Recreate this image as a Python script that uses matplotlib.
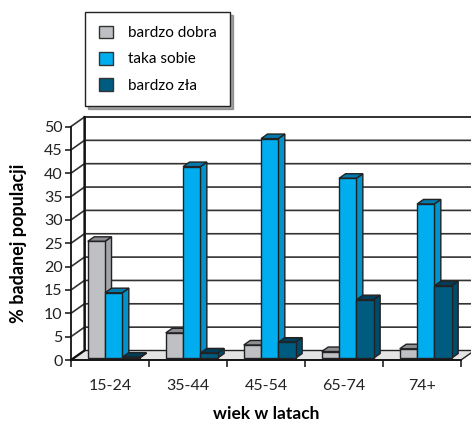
import matplotlib.pyplot as plt
from matplotlib.patches import Polygon, Patch

plt.rcParams['font.family'] = ['Lato', 'DejaVu Sans']

# dane
kategorie = ['15-24', '35-44', '45-54', '65-74', '74+']
serie = ['bardzo dobra', 'taka sobie', 'bardzo zła']
bardzo_dobra = [25, 5.4, 2.8, 1.4, 2.0]
taka_sobie = [14, 41, 47, 38.5, 33]
bardzo_zla = [0.2, 1.1, 3.4, 12.5, 15.5]
y_ticks = list(range(0, 55, 5))

wartosci = [bardzo_dobra, taka_sobie, bardzo_zla]
# kolory: przód, bok, góra
kolory = [
    ('#bfc0c4', '#a4a5a9', '#8d8e92'),
    ('#00aeef', '#0093cc', '#0079ad'),
    ('#005b80', '#004b6b', '#003d58'),
]

W, H = 471, 424
fig = plt.figure(figsize=(W / 100, H / 100), dpi=100)
ax = fig.add_axes([71 / W, 64 / H, 390 / W, 233.5 / H])
ax.set_xlim(0, len(kategorie))
ax.set_ylim(0, 50)

# głębokość perspektywy w jednostkach danych
DX = 13.5 / 78
DY = 9.5 / (233.5 / 50)
n = len(kategorie)


def p(x, y, d):
    return (x + d * DX, y + d * DY)


# ściana tylna, podłoga, krawędź ściany bocznej
ax.add_patch(Polygon([p(0, 0, 1), p(n, 0, 1), p(n, 50, 1), p(0, 50, 1)],
                     closed=True, fc='white', ec='#222', lw=1.2, clip_on=False, zorder=1))
ax.add_patch(Polygon([p(0, 0, 0), p(n, 0, 0), p(n, 0, 1), p(0, 0, 1)],
                     closed=True, fc='#e4e4e4', ec='#222', lw=1.0, clip_on=False, zorder=2))
ax.plot(*zip(p(0, 0, 0), p(0, 0, 1), p(0, 50, 1)), color='#111', lw=1.6,
        clip_on=False, zorder=2)

# linie siatki
for t in y_ticks[1:]:
    xs, ys = zip(p(0, t, 0), p(0, t, 1), p(n, t, 1))
    ax.plot(xs, ys, color='#333', lw=1.2, clip_on=False, zorder=1.5)

# słupki 3D
d0, d1 = 0.2, 0.68
off, w = 0.18, 0.222
for i in range(n):
    for j, vals in enumerate(wartosci):
        v = vals[i]
        fc, sc, tc = kolory[j]
        x0 = i + off + j * w
        x1 = x0 + w
        kw = dict(ec='#222', lw=1.0, clip_on=False, zorder=3 + i * 3 + j)
        ax.add_patch(Polygon([p(x1, 0, d0), p(x1, 0, d1), p(x1, v, d1), p(x1, v, d0)],
                             closed=True, fc=sc, **kw))
        ax.add_patch(Polygon([p(x0, v, d0), p(x1, v, d0), p(x1, v, d1), p(x0, v, d1)],
                             closed=True, fc=tc, **kw))
        ax.add_patch(Polygon([p(x0, 0, d0), p(x1, 0, d0), p(x1, v, d0), p(x0, v, d0)],
                             closed=True, fc=fc, **kw))

# osie
for s in ['top', 'right']:
    ax.spines[s].set_visible(False)
for s in ['left', 'bottom']:
    ax.spines[s].set_color('#111')
    ax.spines[s].set_linewidth(1.3)
    ax.spines[s].set_zorder(40)
ax.set_yticks(y_ticks)
ax.set_xticks([i + 0.5 for i in range(n)])
ax.set_xticklabels(kategorie)
ax.set_xticks(range(n + 1), minor=True)
ax.tick_params(axis='y', length=4, width=1.2, labelsize=11.5, pad=2, colors='#222')
ax.tick_params(axis='x', which='major', length=0, labelsize=11.5, pad=14, colors='#222')
ax.tick_params(axis='x', which='minor', length=5, width=1.2, color='#222')
ax.patch.set_visible(False)

ax.set_xlabel('wiek w latach', fontsize=12.5, fontweight='bold', labelpad=9)
ax.set_ylabel('% badanej populacji', fontsize=13, fontweight='bold', labelpad=12)

# legenda
uchwyty = [Patch(fc=k[0], ec='#333', lw=1.0) for k in kolory]
fig.legend(uchwyty, serie, loc='upper left', bbox_to_anchor=(85 / W, 1 - 12 / H),
           fontsize=11, frameon=True, fancybox=False, shadow=True, edgecolor='#222',
           handlelength=0.9, handleheight=0.9, handletextpad=1.0, labelspacing=0.75,
           borderpad=0.9, borderaxespad=0)

fig.savefig('out.png', dpi=100)
